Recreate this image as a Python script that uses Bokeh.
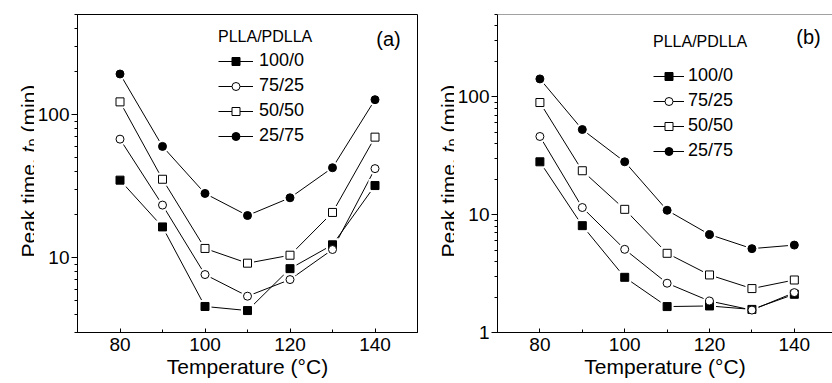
import math
from bokeh.plotting import figure
from bokeh.layouts import row
from bokeh.models import (Range1d, FixedTicker, LogTicker, PrintfTickFormatter,
                          Legend, LegendItem, Label, Span)
from bokeh.embed import file_html
from bokeh.resources import INLINE

# ---------------- data ----------------
temps = [80, 90, 100, 110, 120, 130, 140]
series_names = ["100/0", "75/25", "50/50", "25/75"]

a_100_0 = [34.8, 16.4, 4.56, 4.27, 8.38, 12.3, 31.9]
a_75_25 = [67.3, 23.3, 7.62, 5.38, 7.03, 11.4, 41.9]
a_50_50 = [122.6, 35.3, 11.6, 9.15, 10.4, 20.7, 69.5]
a_25_75 = [192.0, 59.9, 28.1, 19.7, 26.2, 42.5, 127.0]

b_100_0 = [28.1, 8.07, 2.94, 1.66, 1.68, 1.57, 2.11]
b_75_25 = [46.1, 11.5, 5.08, 2.62, 1.85, 1.55, 2.18]
b_50_50 = [89.5, 23.6, 11.1, 4.70, 3.08, 2.36, 2.79]
b_25_75 = [142.0, 52.8, 28.1, 10.9, 6.78, 5.15, 5.52]

x_major_ticks = [80, 100, 120, 140]
x_minor_ticks = [70, 90, 110, 130, 150]

legend_title = "PLLA/PDLLA"
x_title = "Temperature (\u00b0C)"
y_title_parts = ["Peak time,", "t", "p", "(min)"]

FONT = "Liberation Sans"

# marker style per series: (marker, filled)
styles = [("square", True), ("circle", False), ("square", False), ("circle", True)]


def make_ytitle(width, y0):
    """Narrow blank figure that carries the rotated y-axis title."""
    t = figure(width=width, height=383, x_range=Range1d(0, 1), y_range=Range1d(0, 1),
               output_backend="svg", toolbar_location=None,
               x_axis_location=None, y_axis_location=None,
               min_border=0, min_border_left=0, min_border_right=0,
               min_border_top=0, min_border_bottom=0)
    t.xgrid.visible = False
    t.ygrid.visible = False
    t.outline_line_color = None
    t.background_fill_color = "white"
    t.border_fill_color = "white"
    bx = 27.5
    ang = math.pi / 2
    # (style, size, offset along text, baseline shift)
    specs = [("normal", "21px", 0.0, 0.0),
             ("italic", "21px", 105.0, 0.0),
             ("normal", "14px", 111.0, 3.5),
             ("normal", "21px", 125.0, 0.0)]
    for txt, (style, size, dy, dx) in zip(y_title_parts, specs):
        t.add_layout(Label(x=bx + dx, y=y0 + dy, x_units="screen",
                           y_units="screen", text=txt, angle=ang,
                           text_font=FONT, text_font_size=size,
                           text_font_style=style, text_align="left",
                           text_baseline="alphabetic", text_color="black"))
    return t


def make_panel(series, width, x_end, y_start, y_end, border_right, border_bottom,
               boxed, legend_x, legend_y, legend_glyph_w, legend_standoff,
               title_standoff, tag, tag_x, tag_y):
    p = figure(width=width, height=383, x_range=Range1d(70, x_end),
               y_range=Range1d(y_start, y_end), y_axis_type="log",
               output_backend="svg", toolbar_location=None,
               min_border_left=40, min_border_right=border_right,
               min_border_top=14, min_border_bottom=border_bottom)
    p.xgrid.visible = False
    p.ygrid.visible = False
    p.background_fill_color = "white"
    p.border_fill_color = "white"
    if boxed:
        p.outline_line_color = "black"
        p.outline_line_width = 1
    else:
        p.outline_line_color = None
        p.add_layout(Span(location=y_end, dimension="width",
                          line_color="#444444", line_width=1))

    # x axis
    xa = p.xaxis[0]
    xa.ticker = FixedTicker(ticks=x_major_ticks, minor_ticks=x_minor_ticks)
    xa.major_tick_in = 4
    xa.major_tick_out = 0
    xa.minor_tick_in = 3
    xa.minor_tick_out = 0
    xa.major_label_standoff = 5
    xa.axis_label = x_title
    xa.axis_label_standoff = 1
    xa.axis_label_text_font = FONT
    xa.axis_label_text_font_size = "21px"
    xa.axis_label_text_font_style = "normal"
    xa.axis_label_text_color = "black"
    # y axis
    ya = p.yaxis[0]
    ya.ticker = LogTicker(num_minor_ticks=10)
    ya.formatter = PrintfTickFormatter(format="%d")
    ya.major_tick_in = 0
    ya.major_tick_out = 6
    ya.minor_tick_in = 0
    ya.minor_tick_out = 3
    ya.major_label_standoff = 2
    for ax in (xa, ya):
        ax.axis_line_color = "black"
        ax.axis_line_width = 1
        ax.major_tick_line_color = "black"
        ax.minor_tick_line_color = "black"
        ax.major_label_text_font = FONT
        ax.major_label_text_font_size = "19px"
        ax.major_label_text_color = "black"

    lines, marks = [], []
    for vals in series:
        lines.append(p.line(temps, vals, line_color="black", line_width=1))
    for (mk, filled), vals in zip(styles, series):
        p.scatter(temps, vals, marker=mk, size=13, fill_color="white", line_color=None)
    for (mk, filled), vals in zip(styles, series):
        marks.append(p.scatter(temps, vals, marker=mk, size=8,
                               fill_color="black" if filled else "white",
                               line_color="black", line_width=1))

    items = [LegendItem(label=n, renderers=[l, m])
             for n, l, m in zip(series_names, lines, marks)]
    leg = Legend(items=items, location=(legend_x, legend_y), title=legend_title,
                 title_text_font=FONT, title_text_font_size="16px",
                 title_text_font_style="normal", title_text_color="black",
                 title_standoff=title_standoff,
                 label_text_font=FONT, label_text_font_size="18px",
                 label_text_color="black",
                 glyph_width=legend_glyph_w, glyph_height=20, label_height=20,
                 label_standoff=legend_standoff, spacing=4, padding=0, margin=0,
                 background_fill_alpha=0, border_line_color=None)
    p.add_layout(leg, "center")

    p.add_layout(Label(x=tag_x, y=tag_y, x_units="screen", y_units="screen",
                       text=tag, text_font=FONT, text_font_size="20px",
                       text_align="center", text_baseline="middle",
                       text_color="black"))
    return p


ta = make_ytitle(34, 75)
pa = make_panel([a_100_0, a_75_25, a_50_50, a_25_75], width=386, x_end=150,
                y_start=3, y_end=500, border_right=3, border_bottom=51, boxed=True,
                legend_x=141, legend_y=186, legend_glyph_w=35, legend_standoff=6,
                title_standoff=4, tag="(a)", tag_x=311, tag_y=294)
tb = make_ytitle(34, 75)
pb = make_panel([b_100_0, b_75_25, b_50_50, b_25_75], width=378, x_end=149,
                y_start=1, y_end=500, border_right=0, border_bottom=51, boxed=False,
                legend_x=156, legend_y=171, legend_glyph_w=31, legend_standoff=4,
                title_standoff=14, tag="(b)", tag_x=311, tag_y=296)

layout = row(ta, pa, tb, pb, spacing=0)
open("out.html", "w").write(file_html(layout, INLINE))
